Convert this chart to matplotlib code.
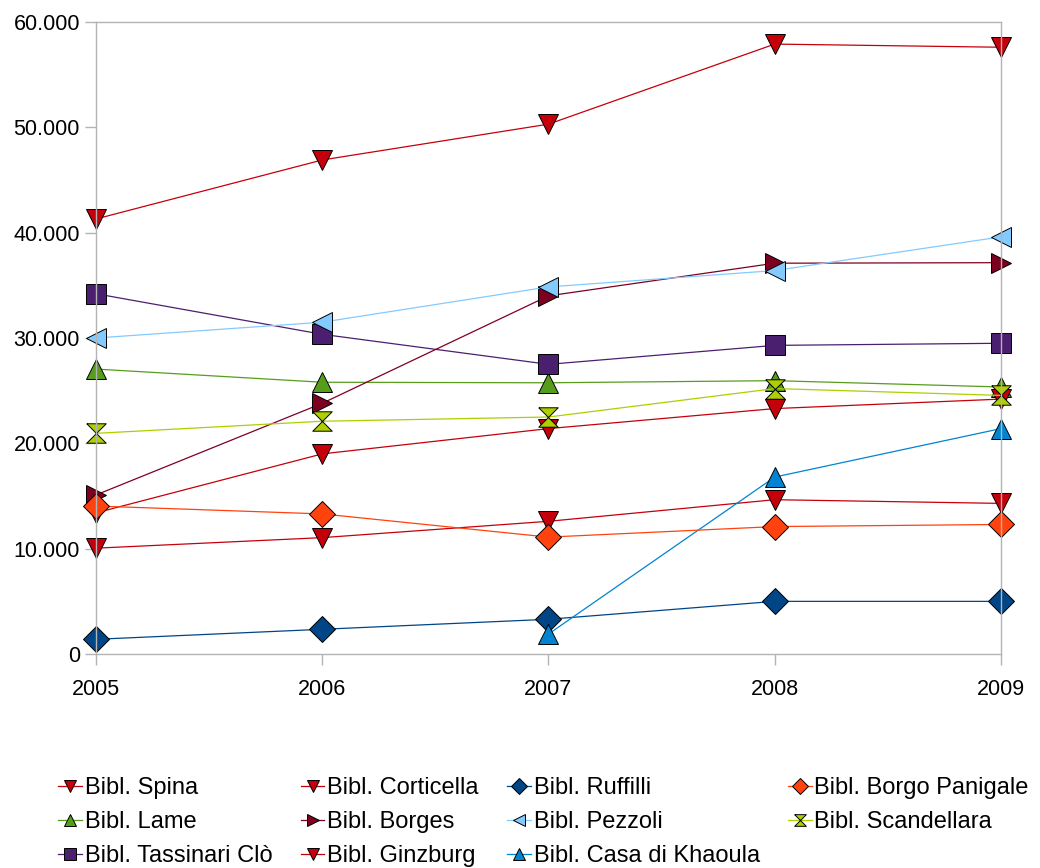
import matplotlib.pyplot as plt
from matplotlib.ticker import FuncFormatter

plt.rcParams['font.family'] = ['Liberation Sans', 'DejaVu Sans']

years = [2005, 2006, 2007, 2008, 2009]

spina = [41300, 46900, 50300, 57900, 57600]
corticella = [13400, 19000, 21400, 23300, 24200]
ruffilli = [1400, 2350, 3300, 5000, 5000]
borgo_panigale = [14050, 13300, 11100, 12100, 12300]
lame = [27050, 25800, 25750, 25950, 25350]
borges = [15100, 23800, 34000, 37100, 37150]
pezzoli = [30000, 31500, 34850, 36400, 39600]
scandellara = [20950, 22100, 22500, 25200, 24550]
tassinari = [34200, 30350, 27500, 29300, 29500]
ginzburg = [10050, 11050, 12600, 14650, 14300]
khaoula_years = [2007, 2008, 2009]
khaoula = [1900, 16800, 21400]

hourglass = [(-1, 1), (1, 1), (-1, -1), (1, -1), (-1, 1)]

# legend is laid out column-major, so this order gives the row order of the original
series = [
    ('Bibl. Spina', years, spina, '#c5000b', 'v'),
    ('Bibl. Lame', years, lame, '#579d1c', '^'),
    ('Bibl. Tassinari Clò', years, tassinari, '#4b1f6f', 's'),
    ('Bibl. Corticella', years, corticella, '#c5000b', 'v'),
    ('Bibl. Borges', years, borges, '#7e0021', '>'),
    ('Bibl. Ginzburg', years, ginzburg, '#c5000b', 'v'),
    ('Bibl. Ruffilli', years, ruffilli, '#004586', 'D'),
    ('Bibl. Pezzoli', years, pezzoli, '#83caff', '<'),
    ('Bibl. Casa di Khaoula', khaoula_years, khaoula, '#0084d1', '^'),
    ('Bibl. Borgo Panigale', years, borgo_panigale, '#ff420e', 'D'),
    ('Bibl. Scandellara', years, scandellara, '#aecf00', hourglass),
]

sizes = {'D': 13, 's': 15, 'v': 14, '^': 14, '>': 14, '<': 14}

fig = plt.figure(figsize=(10.4, 8.68), dpi=100)
ax = fig.add_axes([0.0923, 0.2465, 0.8702, 0.7282])

for name, xs, ys, col, mk in series:
    ms = 14 if mk is hourglass else sizes[mk]
    ax.plot(xs, ys, color=col, lw=0.9, marker=mk, ms=ms,
            markerfacecolor=col, markeredgecolor='black', markeredgewidth=0.7,
            label=name)

ax.set_xlim(2005, 2009)
ax.set_ylim(0, 60000)
ax.set_xticks(years)
ax.set_yticks(range(0, 60001, 10000))
ax.yaxis.set_major_formatter(FuncFormatter(lambda v, p: f'{int(v):,}'.replace(',', '.')))
ax.tick_params(colors='#b3b3b3', labelcolor='black', labelsize=15.5, length=8, width=1)
ax.tick_params(axis='x', pad=10)
for s in ax.spines.values():
    s.set_color('#b3b3b3')
    s.set_linewidth(1)
for ln in ax.lines:
    ln.set_clip_on(False)

ax.legend(loc='upper left', bbox_to_anchor=(-0.052, -0.18), ncol=4, frameon=False,
          fontsize=17, handlelength=1.0, handletextpad=0.12, columnspacing=1.2,
          labelspacing=0.5, borderaxespad=0, markerscale=0.6)

plt.savefig('out.png', dpi=100)
plt.close()
